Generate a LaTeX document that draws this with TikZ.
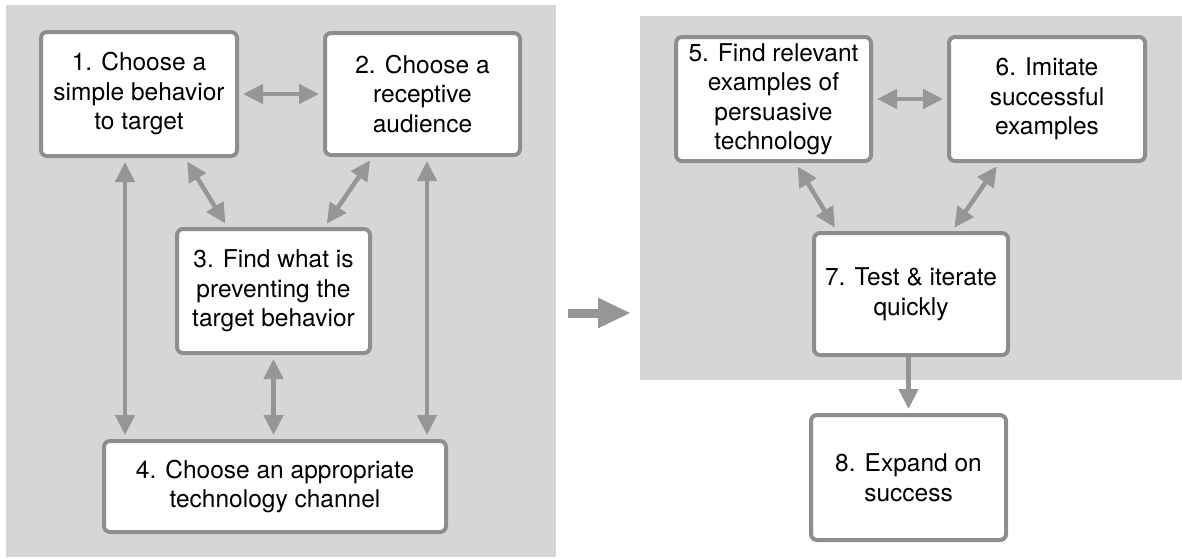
\documentclass[tikz,border=0pt]{standalone}
\usepackage{fontspec}
\setmainfont{TeX Gyre Heros}
\usepackage{tikz}
\usetikzlibrary{arrows.meta}
\definecolor{panelgray}{HTML}{D6D6D6}
\definecolor{boxline}{HTML}{8E8E8E}
\definecolor{arrowgray}{HTML}{969696}

\begin{document}
\begin{tikzpicture}[x=1pt, y=-1pt,
    stage/.style={draw=boxline, line width=4pt, fill=white, rounded corners=6pt, align=center, inner sep=0pt, font=\fontsize{24.5}{29.5}\selectfont},
    link/.style={draw=arrowgray, line width=4.5pt, shorten <=4pt, shorten >=4pt, {Triangle[length=20pt,width=19pt]}-{Triangle[length=20pt,width=19pt]}},
    onelink/.style={draw=arrowgray, line width=4.5pt, shorten >=4pt, -{Triangle[length=20pt,width=19pt]}}]
            \useasboundingbox (0,0) rectangle (1182,557);
            \fill[panelgray] (6,5) rectangle (556,557);
            \fill[panelgray] (640,16) rectangle (1182,380);

            \node[stage, minimum width=196pt, minimum height=124pt] (s1) at (139,94) {1. Choose a\\simple behavior\\to target};
            \node[stage, minimum width=195pt, minimum height=122pt] (s2) at (422.5,94) {2. Choose a\\receptive\\audience};
            \node[stage, minimum width=193pt, minimum height=124pt] (s3) at (273.5,291) {3. Find what is\\preventing the\\target behavior};
            \node[stage, minimum width=342pt, minimum height=91pt] (s4) at (275,486.5) {4. Choose an appropriate\\technology channel};
            \node[stage, minimum width=195pt, minimum height=124pt] (s5) at (773.5,99) {5. Find relevant\\examples of\\persuasive\\technology};
            \node[stage, minimum width=196pt, minimum height=124pt] (s6) at (1047,99) {6. Imitate\\successful\\examples};
            \node[stage, minimum width=194pt, minimum height=122pt] (s7) at (911,294) {7. Test \& iterate\\quickly};
            \node[stage, minimum width=195pt, minimum height=125pt] (s8) at (908.5,477.5) {8. Expand on\\success};

            \draw[link] (s1) -- (s2);
            \draw[link] ([xshift=46pt]s1.south) -- ([xshift=-46pt]s3.north);
            \draw[link] ([xshift=-50pt]s2.south) -- ([xshift=51pt]s3.north);
            \draw[link] (s1.south -| 125,0) -- (s4.north -| 125,0);
            \draw[link] (s2.south -| 427,0) -- (s4.north -| 427,0);
            \draw[link] (s3.south) -- (s3.south |- s4.north);

            \draw[link] (s5) -- (s6);
            \draw[link] ([xshift=22pt]s5.south) -- ([xshift=-74pt]s7.north);
            \draw[link] ([xshift=-48pt]s6.south) -- ([xshift=41pt]s7.north);
            \draw[onelink] (s8.north |- s7.south) -- (s8.north);

            \coordinate (gapL) at (568,313);
            \coordinate (gapR) at (631,313);
            \draw[arrowgray, line width=9pt, -{Triangle[length=33pt,width=28pt]}] (gapL) -- (gapR);
        \end{tikzpicture}
\end{document}
